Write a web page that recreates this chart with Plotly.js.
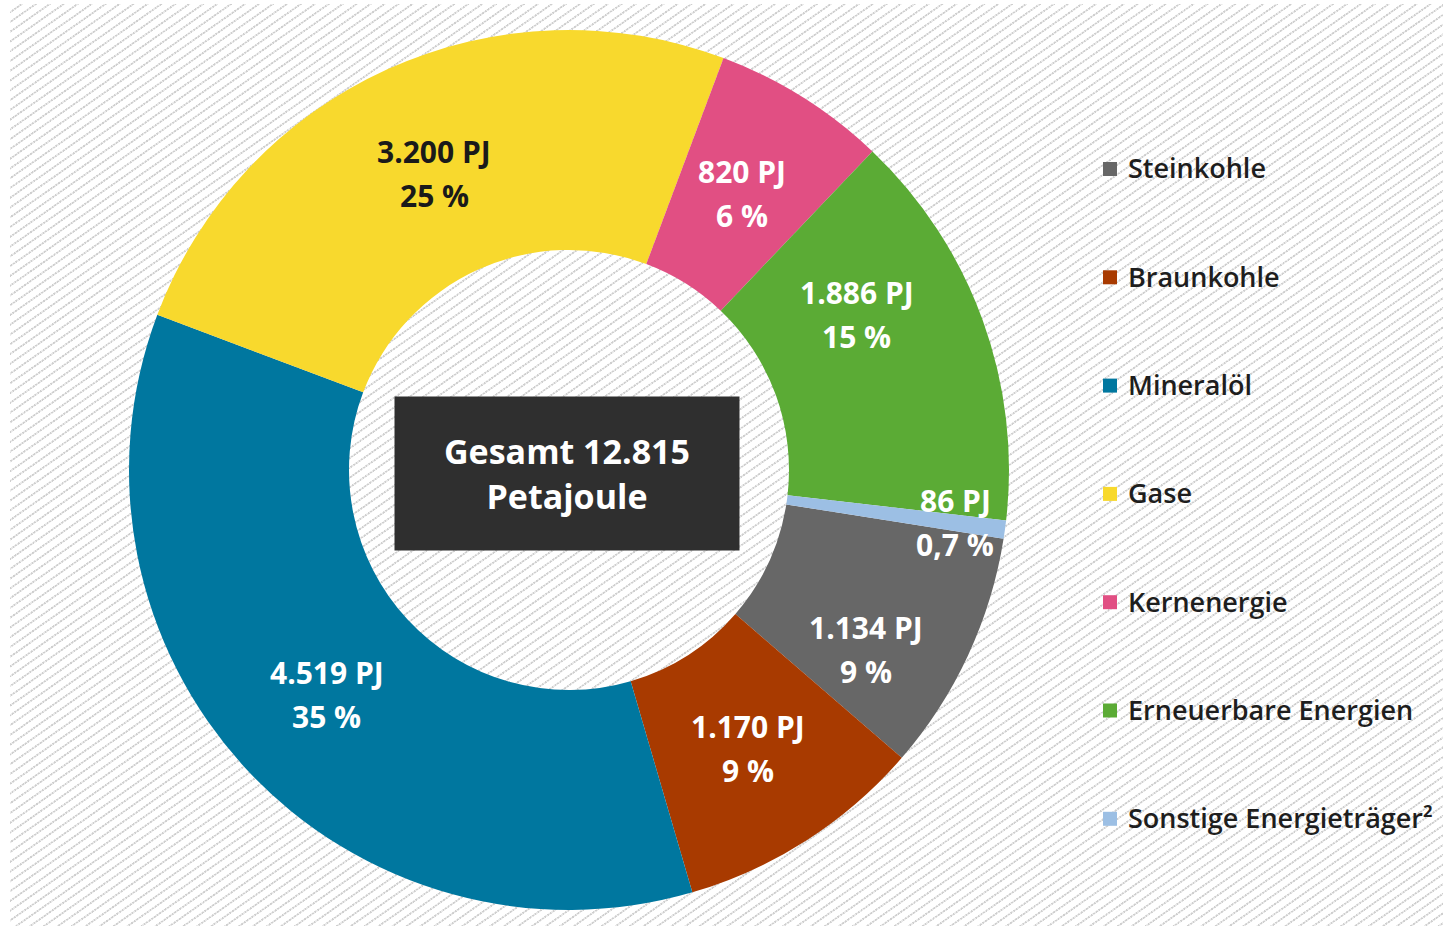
<!DOCTYPE html>
<html>
<head>
<meta charset="utf-8">
<script src="https://cdn.plot.ly/plotly-3.0.1.min.js"></script>
<style>
  html, body { margin: 0; padding: 0; background: #ffffff; width: 1443px; height: 928px; overflow: hidden; }
  #hatch {
    position: absolute; left: 10px; top: 4px; width: 1433px; height: 922px;
    background:
      repeating-linear-gradient(55deg, rgba(255,255,255,0.55) 0px, rgba(255,255,255,0.55) 1.6px, rgba(255,255,255,0) 1.6px, rgba(255,255,255,0) 3.2px),
      repeating-linear-gradient(145deg, #ffffff 0px, #ffffff 5.6px, #cfcfcf 6.1px, #cfcfcf 7.5px, #ffffff 8.0px);
  }
  #chart { position: absolute; left: 0; top: 0; width: 1443px; height: 928px; }
</style>
</head>
<body>
<div id="hatch"></div>
<div id="chart"></div>
<script>
// ---- data ----
const categories = ['Steinkohle', 'Braunkohle', 'Mineralöl', 'Gase', 'Kernenergie', 'Erneuerbare Energien', 'Sonstige Energieträger²'];
const valuesPJ = [1134, 1170, 4519, 3200, 820, 1886, 86];
const percentLabels = ['9 %', '9 %', '35 %', '25 %', '6 %', '15 %', '0,7 %'];
const totalLabel = 'Gesamt 12.815<br>Petajoule';

// ---- styles ----
const colors = ['#676767', '#a83a00', '#00779f', '#f8d92d', '#e14f83', '#5bab35', '#9cbfe4'];
const textColors = ['#ffffff', '#ffffff', '#ffffff', '#1a1a1a', '#ffffff', '#ffffff', '#ffffff'];
// label placement tweaks: extra angle (deg) and radius (px) per slice
const labelAngleShift = [6.3, 0, 0, 0, 0, -8.5, 0];
const labelRadius = [347, 331, 330, 326, 326, 327, 390];
const W = 1443, H = 928;
const FONT = '"Open Sans", "Noto Sans", sans-serif';
const rotation = 99;

function fmt(v) { return String(v).replace(/\B(?=(\d{3})+(?!\d))/g, '.'); }

// pie geometry (pixels)
const cx = 569, cy = 470, R = 440;

const trace = {
  type: 'pie',
  labels: categories,
  values: valuesPJ,
  textinfo: 'none',
  hole: 0.5,
  sort: false,
  direction: 'clockwise',
  rotation: rotation,
  marker: { colors: colors, line: { width: 0 } },
  domain: { x: [(cx - R) / W, (cx + R) / W], y: [(H - cy - R) / H, (H - cy + R) / H] },
  showlegend: false,
  hovertemplate: '%{label}: %{value} PJ<extra></extra>'
};

const annotations = [];
const shapes = [];

// center total box
annotations.push({
  xref: 'paper', yref: 'paper', x: 567 / W, y: 1 - 473.5 / H,
  xanchor: 'center', yanchor: 'middle',
  text: '<b>' + totalLabel + '</b>', showarrow: false,
  width: 344, height: 153, bgcolor: '#2f2f2f', borderpad: 0,
  font: { family: FONT, size: 34, color: '#ffffff' }, align: 'center'
});

// slice labels, placed at each slice's mid-angle computed from the data
const total = valuesPJ.reduce((a, b) => a + b, 0);
let cum = 0;
valuesPJ.forEach((v, i) => {
  const mid = rotation + (cum + v / 2) / total * 360 + labelAngleShift[i];
  cum += v;
  const a = mid * Math.PI / 180;
  const lx = cx + labelRadius[i] * Math.sin(a);
  const ly = cy - labelRadius[i] * Math.cos(a);
  const lines = [fmt(v) + ' PJ', percentLabels[i]];
  lines.forEach((t, k) => {
    annotations.push({
      xref: 'paper', yref: 'paper', x: lx / W, y: 1 - (ly + (k === 0 ? -22 : 22)) / H,
      xanchor: 'center', yanchor: 'middle', showarrow: false,
      text: '<b>' + t + '</b>',
      font: { family: FONT, size: 30, color: textColors[i] }
    });
  });
});

// legend built from categories
const legY0 = 168, legStep = 108.3, sq = 14, sqX = 1103, txtX = 1126;
categories.forEach((c, i) => {
  const y = legY0 + i * legStep;
  shapes.push({
    type: 'rect', xref: 'paper', yref: 'paper',
    x0: sqX / W, x1: (sqX + sq) / W, y0: 1 - (y - sq / 2 + 1) / H, y1: 1 - (y + sq / 2 + 1) / H,
    fillcolor: colors[i], line: { width: 0 }
  });
  annotations.push({
    xref: 'paper', yref: 'paper', x: txtX / W, y: 1 - y / H,
    xanchor: 'left', yanchor: 'middle', showarrow: false,
    text: c, font: { family: FONT, size: 27, color: '#1e1e1e', weight: 600 }
  });
});

const layout = {
  width: W, height: H,
  margin: { l: 0, r: 0, t: 0, b: 0 },
  paper_bgcolor: 'rgba(0,0,0,0)',
  plot_bgcolor: 'rgba(0,0,0,0)',
  showlegend: false,
  annotations: annotations,
  shapes: shapes
};

Plotly.newPlot('chart', [trace], layout, { displayModeBar: false });
</script>
</body>
</html>
